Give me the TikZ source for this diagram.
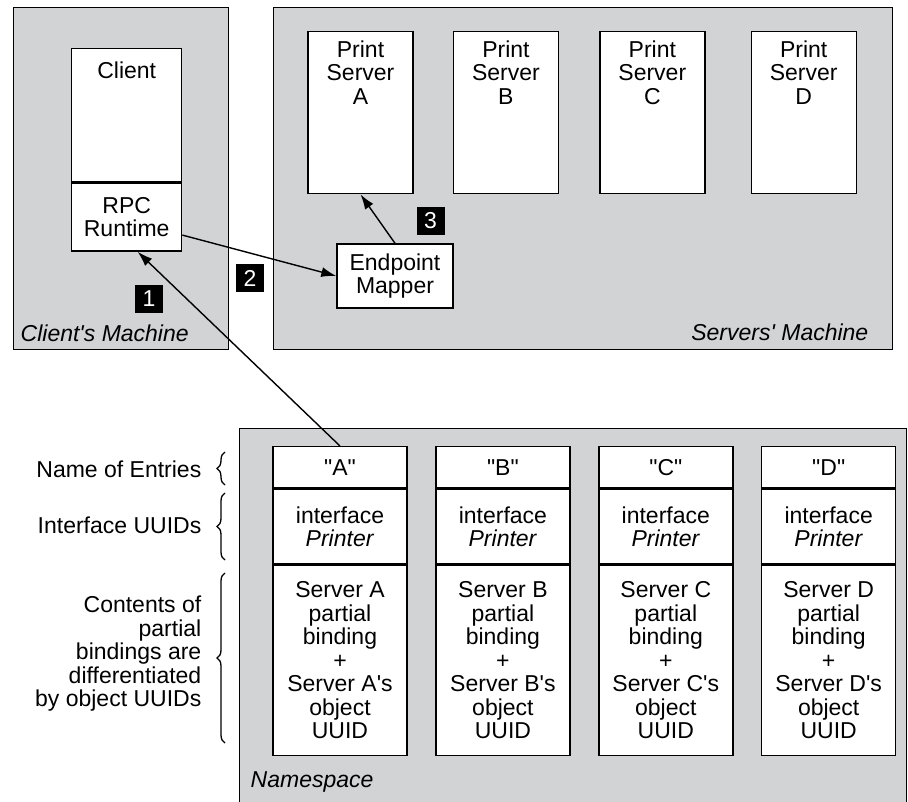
\documentclass[tikz,border=0pt]{standalone}
\usepackage{fontspec}
\setmainfont{Liberation Sans}[Ligatures=TeXOff]
\usetikzlibrary{positioning, arrows.meta, decorations.pathreplacing}
\definecolor{machinegray}{RGB}{209,211,212}
\newcommand{\diafont}{\fontsize{23}{23.5}\selectfont}

\begin{document}
\begin{tikzpicture}[x=1pt, y=-1pt, line width=1.4pt, font=\diafont,
    machine/.style={draw, fill=machinegray, anchor=north west, inner sep=0pt},
    box/.style={draw, fill=white, inner sep=0pt, align=center},
    srv/.style={box, minimum width=105pt, minimum height=162pt},
    cell/.style={box, minimum width=134pt},
    txt/.style={inner sep=0pt, align=center},
    side/.style={inner sep=0pt, align=right, anchor=east},
    badge/.style={fill=black, text=white, minimum size=28pt, inner sep=0pt},
    brc/.style={decorate, decoration={brace, amplitude=8pt}, line width=1.3pt},
    >={Latex[length=15pt, width=10pt]}]
   \useasboundingbox (0,0) rectangle (908,802);

   % machines
   \node[machine, minimum width=215pt, minimum height=342pt] (clientm) at (13,7) {};
   \node[machine, minimum width=619pt, minimum height=342pt] (serverm) at (273,7) {};
   \node[machine, minimum width=667pt, minimum height=374pt] (namesp) at (239,428) {};
   \node[anchor=base west, inner sep=0pt, font=\diafont\itshape] (clientlbl) at (20,342) {Client's Machine};
   \node[anchor=base east, inner sep=0pt, font=\diafont\itshape] (serverlbl) at (869,341) {Servers' Machine};
   \node[anchor=base west, inner sep=0pt, font=\diafont\itshape] (nslbl) at (250,787) {Namespace};

   % client side
   \node[box, minimum width=110pt, minimum height=133pt, anchor=north west] (client) at (71,48) {};
   \node[txt, below=13pt of client.north] (clienttxt) {Client};
   \node[box, minimum width=110pt, minimum height=68pt, below=0pt of client] (rpc) {RPC\\Runtime};

   % print servers
   \node[srv, anchor=north] (psA) at (360.5,31) {};
   \node[srv, right=39pt of psA] (psB) {};
   \node[srv, right=40pt of psB] (psC) {};
   \node[srv, right=45pt of psC] (psD) {};
   \node[txt, below=9pt of psA.north] (psAtxt) {Print\\Server\\A};
   \node[txt, below=9pt of psB.north] (psBtxt) {Print\\Server\\B};
   \node[txt, below=9pt of psC.north] (psCtxt) {Print\\Server\\C};
   \node[txt, below=9pt of psD.north] (psDtxt) {Print\\Server\\D};
   \node[box, minimum width=116pt, minimum height=64pt] (mapper) at (395,276) {Endpoint\\Mapper};

   % namespace entries
   \node[cell, minimum height=41pt, anchor=north] (nameA) at (340,446) {"A"};
   \node[cell, minimum height=41pt, right=27.5pt of nameA] (nameB) {"B"};
   \node[cell, minimum height=41pt, right=27.5pt of nameB] (nameC) {"C"};
   \node[cell, minimum height=41pt, right=27.5pt of nameC] (nameD) {"D"};
   \node[cell, minimum height=75pt, below=0pt of nameA] (ifA) {interface\\\textit{Printer}};
   \node[cell, minimum height=75pt, below=0pt of nameB] (ifB) {interface\\\textit{Printer}};
   \node[cell, minimum height=75pt, below=0pt of nameC] (ifC) {interface\\\textit{Printer}};
   \node[cell, minimum height=75pt, below=0pt of nameD] (ifD) {interface\\\textit{Printer}};
   \node[cell, minimum height=190pt, below=0pt of ifA] (bindA) {Server A\\partial\\binding\\+\\Server A's\\object\\UUID};
   \node[cell, minimum height=190pt, below=0pt of ifB] (bindB) {Server B\\partial\\binding\\+\\Server B's\\object\\UUID};
   \node[cell, minimum height=190pt, below=0pt of ifC] (bindC) {Server C\\partial\\binding\\+\\Server C's\\object\\UUID};
   \node[cell, minimum height=190pt, below=0pt of ifD] (bindD) {Server D\\partial\\binding\\+\\Server D's\\object\\UUID};

   % row captions
   \node[side] (capname) at (202,469) {Name of Entries};
   \node[side] (capif) at (202,525) {Interface UUIDs};
   \node[side] (capbind) at (202,654) {Contents of\\partial\\bindings are\\differentiated\\by object UUIDs};
   \draw[brc] (225,485) -- (225,452);
   \draw[brc] (225,560) -- (225,493);
   \draw[brc] (225,743) -- (225,573);

   % steps
   \node[badge] (step1) at (149,299) {1};
   \node[badge] (step2) at (250,278.5) {2};
   \node[badge] (step3) at (430.5,221) {3};

    \path[->]
    (nameA.north) edge ([xshift=11pt]rpc.south)
    ([yshift=-18pt]rpc.east) edge (mapper.west)
    (mapper.north) edge (psA.south);
\end{tikzpicture}
\end{document}
